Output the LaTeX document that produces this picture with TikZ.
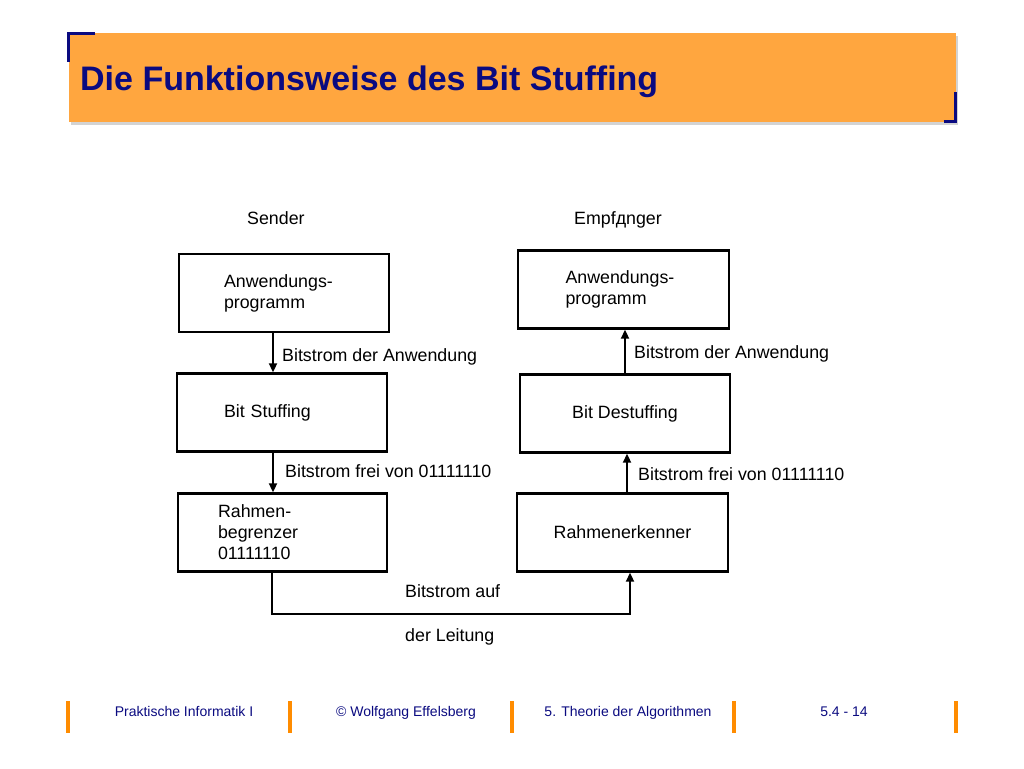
\documentclass[tikz,border=0pt]{standalone}
\usepackage{fontspec}
\setmainfont{Liberation Sans}
\usetikzlibrary{arrows.meta,shadows}
\definecolor{titleorange}{HTML}{FFA63F}
\definecolor{barorange}{HTML}{FF8C00}
\definecolor{navy}{HTML}{0A0A80}

\begin{document}
\begin{tikzpicture}[x=1pt,y=-1pt,>={Triangle[length=9pt,width=8pt]},
    box/.style={draw=black,line width=2.4pt,minimum width=210pt,minimum height=78pt,
      align=left,font=\fontsize{17.8}{21}\selectfont},
    lbl/.style={anchor=base west,inner sep=0pt,font=\fontsize{17.8}{21}\selectfont},
    foot/.style={anchor=base,inner sep=0pt,text=navy,font=\fontsize{14}{16}\selectfont}]
      \useasboundingbox (0,0) rectangle (1024,768);
      % title bar
      \node[fill=titleorange,minimum width=887pt,minimum height=88pt,inner sep=0pt,
        drop shadow={shadow xshift=2pt,shadow yshift=-3pt,opacity=0.35}] (bar) at (512,77.5) {};
      \draw[navy,line width=3pt] ([xshift=27pt]bar.north west) -- (bar.north west) -- ([yshift=-29pt]bar.north west);
      \draw[navy,line width=3pt] ([xshift=-12pt]bar.south east) -- (bar.south east) -- ([yshift=30pt]bar.south east);
      \node[anchor=base west,inner sep=0pt,text=navy,font=\fontsize{34}{36}\bfseries] (title) at (80,90) {Die Funktionsweise des Bit Stuffing};

      % sender
      \node[lbl] (sender) at (247,224) {Sender};
      \node[box,text width=120pt,inner xsep=45pt] (L1) at (284,293) {Anwendungs-\\programm};
      \node[box,text width=116pt,inner xsep=47pt] (L2) at (282,412.5) {Bit Stuffing};
      \node[box,text width=129pt,inner xsep=40pt,minimum width=209pt] (L3) at (282.5,532.5) {Rahmen-\\begrenzer\\01111110};
      \node[lbl] (l12) at (282,361) {Bitstrom der Anwendung};
      \node[lbl] (l23) at (285,477) {Bitstrom frei von 01111110};

      % receiver
      \node[lbl] (empf) at (574,224) {Empfдnger};
      \node[box,text width=116pt,inner xsep=47pt,minimum width=211pt] (R1) at (623.5,289.5) {Anwendungs-\\programm};
      \node[box] (R2) at (625,413.5) {Bit Destuffing};
      \node[box,minimum width=211pt] (R3) at (622.5,532.5) {Rahmenerkenner};
      \node[lbl] (r12) at (634,358) {Bitstrom der Anwendung};
      \node[lbl] (r23) at (638,480) {Bitstrom frei von 01111110};

      % line
      \node[lbl] (auf) at (405,597) {Bitstrom auf};
      \node[lbl] (leitung) at (405,641) {der Leitung};

      \path[draw,line width=2pt]
      ([xshift=-11pt]L1.south) edge[->] ([xshift=-9pt]L2.north)
      ([xshift=-9pt]L2.south) edge[->] ([xshift=-9.5pt]L3.north)
      (R2.north) edge[->] ([xshift=1.5pt]R1.south)
      ([xshift=4.5pt]R3.north) edge[->] ([xshift=2pt]R2.south);
      \draw[->,line width=2pt] ([xshift=-10.5pt]L3.south) -- ++(0,41) -| ([xshift=7.5pt]R3.south);

      % footer
      \draw[barorange,line width=4pt] (68,701) -- (68,733) (290,701) -- (290,733)
        (512,701) -- (512,733) (734,701) -- (734,733) (956,701) -- (956,733);
      \node[foot] (f1) at (184,716) {Praktische Informatik I};
      \node[foot] (f2) at (406,716) {© Wolfgang Effelsberg};
      \node[foot] (f3) at (628,716) {5. Theorie der Algorithmen};
      \node[foot] (f4) at (844,716) {5.4 - 14};
\end{tikzpicture}
\end{document}
